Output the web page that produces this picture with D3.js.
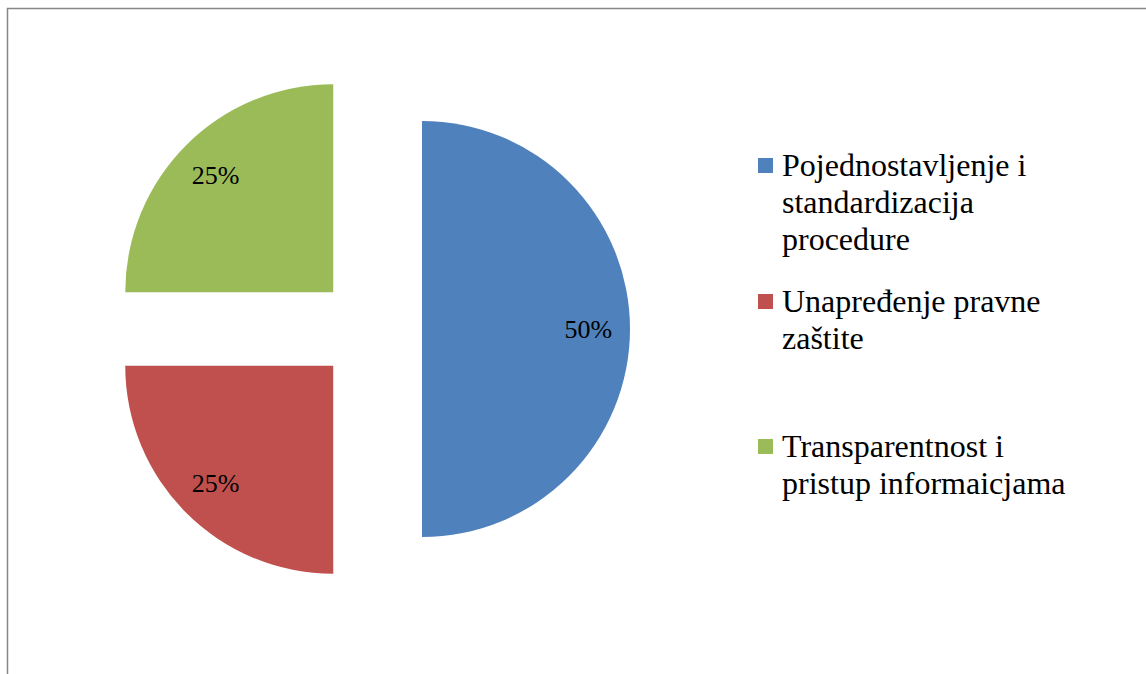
<!DOCTYPE html>
<html>
<head>
<meta charset="utf-8">
<script src="https://cdn.jsdelivr.net/npm/d3@7"></script>
</head>
<body style="margin:0">
<svg id="chart" width="1146" height="674"></svg>
<script>
const categories = ["Pojednostavljenje i standardizacija procedure", "Unapređenje pravne zaštite", "Transparentnost i pristup informaicjama"];
const legendLines = [["Pojednostavljenje i", "standardizacija", "procedure"], ["Unapređenje pravne", "zaštite"], ["Transparentnost i", "pristup informaicjama"]];
const values = [50, 25, 25];
const labels = ["50%", "25%", "25%"];
const colors = ["#4F81BD", "#C0504D", "#9BBB59"];

const FONT = '"Times New Roman"';
const svg = d3.select("#chart");
const W = 1146, H = 674;

// frame
svg.append("rect").attr("x", 7.5).attr("y", 8.5).attr("width", W + 10).attr("height", H + 10)
  .attr("fill", "none").attr("stroke", "#868686").attr("stroke-width", 1.5);

const cx = 370, cy = 329, r = 208, explode = 52;
const pie = d3.pie().sort(null).value(d => d);
const arcs = pie(values);
const arc = d3.arc().innerRadius(0).outerRadius(r);
const labelArc = d3.arc().innerRadius(r * 0.8).outerRadius(r * 0.8);

const g = svg.append("g").attr("transform", `translate(${cx},${cy})`);
const slice = g.selectAll("g.slice").data(arcs).enter().append("g")
  .attr("class", "slice")
  .attr("transform", d => {
    const a = (d.startAngle + d.endAngle) / 2;
    return `translate(${explode * Math.sin(a)},${-explode * Math.cos(a)})`;
  });
slice.append("path").attr("d", arc).attr("fill", (d, i) => colors[i]);

// legend
const legendX = 758, legendTops = [176, 312, 457], lineH = 37;
categories.forEach((c, i) => {
  svg.append("rect").attr("x", legendX).attr("y", legendTops[i] - 18).attr("width", 15).attr("height", 15)
    .attr("fill", colors[i]);
  legendLines[i].forEach((ln, j) => {
    svg.append("text").attr("x", legendX + 24).attr("y", legendTops[i] + j * lineH)
      .style("font-family", FONT)
      .attr("font-size", 32)
      .text(ln);
  });
});

// percent labels
arcs.forEach((d, i) => {
  const a = (d.startAngle + d.endAngle) / 2;
  const c = labelArc.centroid(d);
  svg.append("text")
    .attr("x", cx + explode * Math.sin(a) + c[0])
    .attr("y", cy - explode * Math.cos(a) + c[1] + 9)
    .attr("text-anchor", "middle")
    .style("font-family", FONT)
    .attr("font-size", 26)
    .text(labels[i]);
});
</script>
</body>
</html>
